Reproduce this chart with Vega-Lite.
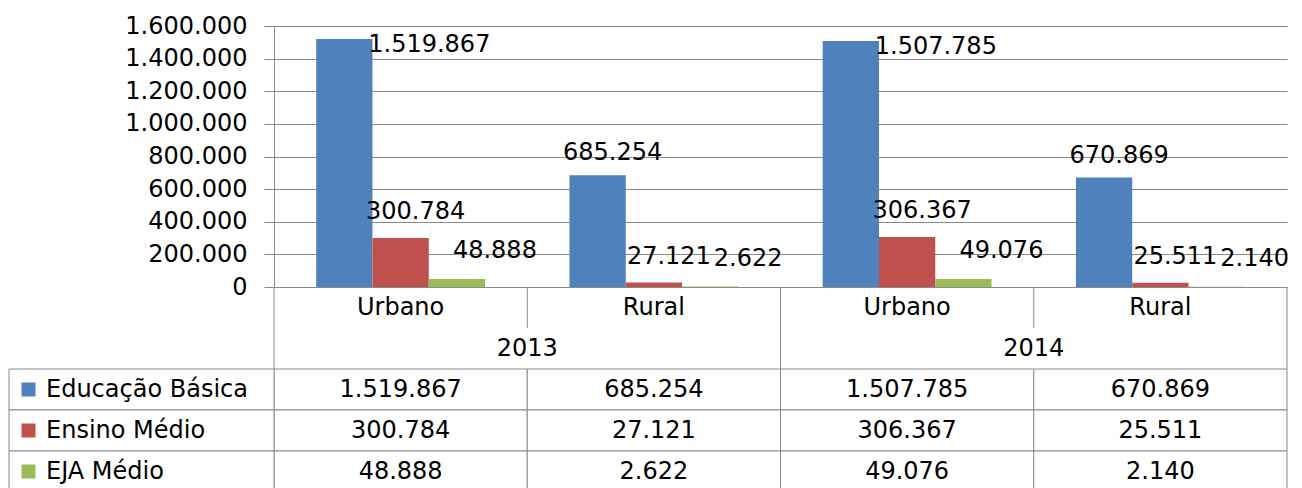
{
  "$schema": "https://vega.github.io/schema/vega-lite/v6.json",
  "background": "white",
  "padding": {"left": 8, "top": 14, "right": 16, "bottom": 0},
  "config": {
    "view": {"stroke": null},
    "font": "DejaVu Sans",
    "locale": {"number": {"decimal": ",", "thousands": ".", "grouping": [3], "currency": ["R$", ""]}}
  },
  "datasets": {
    "bars": [
      {"cat": "2013 Urbano", "area": "Urbano", "year": "2013", "series": "Educação Básica", "value": 1519867},
      {"cat": "2013 Urbano", "area": "Urbano", "year": "2013", "series": "Ensino Médio", "value": 300784},
      {"cat": "2013 Urbano", "area": "Urbano", "year": "2013", "series": "EJA Médio", "value": 48888},
      {"cat": "2013 Rural", "area": "Rural", "year": "2013", "series": "Educação Básica", "value": 685254},
      {"cat": "2013 Rural", "area": "Rural", "year": "2013", "series": "Ensino Médio", "value": 27121},
      {"cat": "2013 Rural", "area": "Rural", "year": "2013", "series": "EJA Médio", "value": 2622},
      {"cat": "2014 Urbano", "area": "Urbano", "year": "2014", "series": "Educação Básica", "value": 1507785},
      {"cat": "2014 Urbano", "area": "Urbano", "year": "2014", "series": "Ensino Médio", "value": 306367},
      {"cat": "2014 Urbano", "area": "Urbano", "year": "2014", "series": "EJA Médio", "value": 49076},
      {"cat": "2014 Rural", "area": "Rural", "year": "2014", "series": "Educação Básica", "value": 670869},
      {"cat": "2014 Rural", "area": "Rural", "year": "2014", "series": "Ensino Médio", "value": 25511},
      {"cat": "2014 Rural", "area": "Rural", "year": "2014", "series": "EJA Médio", "value": 2140}
    ]
  },
  "data": {"name": "bars"},
  "spacing": 0,
  "bounds": "flush",
  "vconcat": [
    {
      "width": 1013,
      "height": 261,
      "encoding": {
        "x": {"field": "cat", "type": "nominal", "sort": null, "scale": {"domain": ["2013 Urbano", "2013 Rural", "2014 Urbano", "2014 Rural"], "paddingInner": 0, "paddingOuter": 0}, "axis": null},
        "xOffset": {"field": "series", "type": "nominal", "sort": null, "scale": {"domain": ["Educação Básica", "Ensino Médio", "EJA Médio"], "paddingInner": 0, "paddingOuter": 0.75}},
        "y": {
          "field": "value", "type": "quantitative",
          "scale": {"domain": [0, 1600000], "nice": false},
          "axis": {
            "values": [0, 200000, 400000, 600000, 800000, 1000000, 1200000, 1400000, 1600000],
            "format": ",d", "title": null,
            "labelFont": "DejaVu Sans", "labelFontSize": 24, "labelColor": "#000000", "labelPadding": 17,
            "tickSize": 10, "tickColor": "#8a8a8a", "domainColor": "#8a8a8a", "gridColor": "#8a8a8a",
            "grid": true
          }
        }
      },
      "layer": [
        {
          "mark": {"type": "bar"},
          "encoding": {
            "color": {"field": "series", "type": "nominal", "scale": {"domain": ["Educação Básica", "Ensino Médio", "EJA Médio"], "range": ["#4f81bd", "#c0504d", "#9bbb59"]}, "legend": null}
          }
        },
        {
          "transform": [{"filter": "datum.value > 1000000"}],
          "mark": {"type": "text", "font": "DejaVu Sans", "fontSize": 24, "color": "#000000", "dx": 85, "dy": 6},
          "encoding": {"text": {"field": "value", "type": "quantitative", "format": ",d"}}
        },
        {
          "transform": [{"filter": "datum.value <= 1000000 && datum.series == 'Educação Básica'"}],
          "mark": {"type": "text", "font": "DejaVu Sans", "fontSize": 24, "color": "#000000", "dx": 15, "dy": -22},
          "encoding": {"text": {"field": "value", "type": "quantitative", "format": ",d"}}
        },
        {
          "transform": [{"filter": "datum.series == 'Ensino Médio'"}],
          "mark": {"type": "text", "font": "DejaVu Sans", "fontSize": 24, "color": "#000000", "dx": 15, "dy": -26},
          "encoding": {"text": {"field": "value", "type": "quantitative", "format": ",d"}}
        },
        {
          "transform": [{"filter": "datum.series == 'EJA Médio'"}],
          "mark": {"type": "text", "font": "DejaVu Sans", "fontSize": 24, "color": "#000000", "dx": 38, "dy": -28},
          "encoding": {"text": {"field": "value", "type": "quantitative", "format": ",d"}}
        }
      ]
    },
    {
      "width": 1013,
      "height": 205,
      "encoding": {
        "x": {"field": "cat", "type": "nominal", "sort": null, "scale": {"domain": ["2013 Urbano", "2013 Rural", "2014 Urbano", "2014 Rural"], "paddingInner": 0, "paddingOuter": 0}, "axis": null},
        "y": {"field": "series", "type": "nominal", "sort": null, "scale": {"domain": ["hdr1", "hdr2", "Educação Básica", "Ensino Médio", "EJA Médio"], "paddingInner": 0, "paddingOuter": 0}, "axis": null}
      },
      "layer": [
        {
          "mark": {"type": "rect", "fill": "white", "stroke": "#8a8a8a", "strokeWidth": 1}
        },
        {
          "mark": {"type": "text", "font": "DejaVu Sans", "fontSize": 24, "color": "#000000"},
          "encoding": {
            "text": {"field": "value", "type": "quantitative", "format": ",d"}
          }
        },
        {
          "transform": [{"filter": "datum.cat == '2013 Urbano'"}],
          "mark": {"type": "rect", "fill": "white", "stroke": "#8a8a8a", "strokeWidth": 1},
          "encoding": {"x": {"value": -265}, "x2": {"value": 0}}
        },
        {
          "transform": [{"filter": "datum.cat == '2013 Urbano'"}],
          "mark": {"type": "point", "shape": "square", "filled": true, "size": 196, "opacity": 1},
          "encoding": {
            "x": {"value": -245.5},
            "color": {"field": "series", "type": "nominal", "scale": {"domain": ["Educação Básica", "Ensino Médio", "EJA Médio"], "range": ["#4f81bd", "#c0504d", "#9bbb59"]}, "legend": null}
          }
        },
        {
          "transform": [{"filter": "datum.cat == '2013 Urbano'"}],
          "mark": {"type": "text", "align": "left", "font": "DejaVu Sans", "fontSize": 24, "color": "#000000"},
          "encoding": {"x": {"value": -228}, "text": {"field": "series"}}
        },
        {
          "transform": [{"filter": "datum.series == 'Educação Básica'"}],
          "mark": {"type": "text", "font": "DejaVu Sans", "fontSize": 24, "color": "#000000"},
          "encoding": {
            "y": {"datum": "hdr1", "type": "nominal"},
            "text": {"field": "area"}
          }
        },
        {
          "transform": [{"filter": "datum.series == 'Educação Básica' && datum.area == 'Rural'"}],
          "mark": {"type": "text", "font": "DejaVu Sans", "fontSize": 24, "color": "#000000"},
          "encoding": {
            "x": {"field": "cat", "type": "nominal", "bandPosition": 0},
            "y": {"datum": "hdr2", "type": "nominal"},
            "text": {"field": "year"}
          }
        },
        {
          "transform": [{"filter": "datum.series == 'Educação Básica' && datum.area == 'Rural'"}],
          "mark": {"type": "rule", "color": "#8a8a8a", "strokeWidth": 1},
          "encoding": {
            "x": {"field": "cat", "type": "nominal", "bandPosition": 0},
            "y": {"datum": "hdr1", "type": "nominal", "bandPosition": 0},
            "y2": {"datum": "hdr2", "bandPosition": 0}
          }
        },
        {
          "transform": [{"filter": "datum.series == 'Educação Básica' && datum.area == 'Urbano'"}],
          "mark": {"type": "rule", "color": "#8a8a8a", "strokeWidth": 1},
          "encoding": {
            "x": {"field": "cat", "type": "nominal", "bandPosition": 0},
            "y": {"datum": "hdr1", "type": "nominal", "bandPosition": 0},
            "y2": {"datum": "Educação Básica", "bandPosition": 0}
          }
        },
        {
          "transform": [{"filter": "datum.series == 'Educação Básica' && datum.cat == '2014 Rural'"}],
          "mark": {"type": "rule", "color": "#8a8a8a", "strokeWidth": 1},
          "encoding": {
            "x": {"field": "cat", "type": "nominal", "bandPosition": 1},
            "y": {"datum": "hdr1", "type": "nominal", "bandPosition": 0},
            "y2": {"datum": "Educação Básica", "bandPosition": 0}
          }
        }
      ]
    }
  ]
}
